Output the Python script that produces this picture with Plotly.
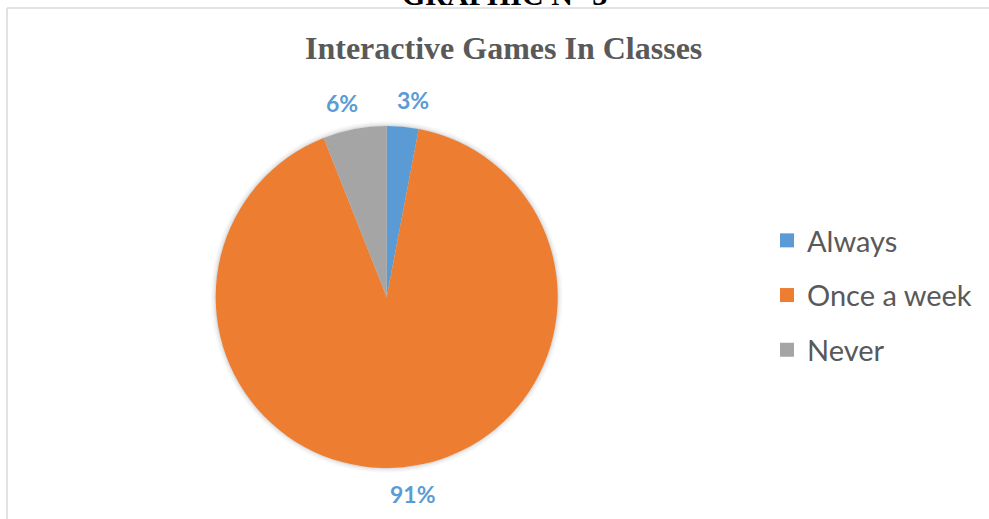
import math
import plotly.graph_objects as go

# Survey answers: how often interactive games are used in class (%)
labels = ["Always", "Once a week", "Never"]
values = [3, 91, 6]
colors = ["#5B9BD5", "#ED7D31", "#A5A5A5"]

W, H = 989, 519

# pie placement in pixels (centre and radius)
cx, cy, r = 386.7, 297.0, 171.0
label_r = 198.0


def px_domain(rad):
    return dict(
        x=[(cx - rad) / W, (cx + rad) / W],
        y=[(H - cy - rad) / H, (H - cy + rad) / H],
    )


fig = go.Figure()

# soft drop shadow under the pie: a few faint stacked discs
for k, a in [(5, 0.025), (3.5, 0.03), (2, 0.04), (1, 0.05)]:
    fig.add_trace(go.Pie(
        values=[1], labels=[""], marker=dict(colors=[f"rgba(0,0,0,{a})"], line=dict(width=0)),
        textinfo="none", hoverinfo="skip", showlegend=False, sort=False,
        domain=px_domain(r + k),
    ))

fig.add_trace(go.Pie(
    labels=labels,
    values=values,
    marker=dict(colors=colors, line=dict(width=0)),
    sort=False,
    direction="clockwise",
    rotation=0,
    textinfo="none",
    showlegend=False,
    domain=px_domain(r),
))

# percentage labels just outside the rim, at each slice's mid-angle,
# nudged sideways away from the vertical axis
total = sum(values)
annotations = []
start = 0.0
for v in values:
    mid = (start + v / 2) / total * 2 * math.pi  # clockwise from 12 o'clock
    start += v
    lx = cx + label_r * math.sin(mid)
    ly = cy - label_r * math.cos(mid)
    side = 1 if math.sin(mid) >= 0 else -1
    annotations.append(dict(
        text=f"{round(v / total * 100)}%", xref="paper", yref="paper",
        x=lx / W, y=(H - ly) / H, xanchor="center", yanchor="middle", showarrow=False,
        xshift=side * 8,
        font=dict(family="Lato", size=23, color="#5B9BD5", weight="bold"),
    ))

# legend entries, one group per category so the rows can be spaced apart
for lab, col in zip(labels, colors):
    fig.add_trace(go.Scatter(
        x=[None], y=[None], mode="markers", name=lab, legendgroup=lab,
        marker=dict(symbol="square", size=14, color=col, line=dict(width=0)),
    ))

annotations += [
    dict(text="Interactive Games In Classes", xref="paper", yref="paper",
         x=503 / W, y=(H - 48) / H, xanchor="center", yanchor="middle",
         showarrow=False,
         font=dict(family="Liberation Serif", size=32, color="#595959", weight="bold")),
    dict(text="GRAPHIC N° 3", xref="paper", yref="paper",
         x=505 / W, y=(H - 13) / H, xanchor="center", yanchor="bottom",
         showarrow=False,
         font=dict(family="Liberation Serif", size=30, color="#000000", weight="bold")),
]

fig.update_layout(
    width=W, height=H,
    margin=dict(l=0, r=0, t=0, b=0),
    paper_bgcolor="white", plot_bgcolor="white",
    xaxis=dict(visible=False), yaxis=dict(visible=False),
    showlegend=True,
    legend=dict(
        x=767 / W, y=(H - 215) / H, xanchor="left", yanchor="top",
        font=dict(family="Lato", size=29, color="#595959"),
        tracegroupgap=14, itemsizing="trace",
        bgcolor="rgba(0,0,0,0)",
    ),
    shapes=[
        dict(type="line", xref="paper", yref="paper",
             x0=7 / W, x1=1, y0=(H - 8) / H, y1=(H - 8) / H,
             line=dict(color="#D9D9D9", width=1.5)),
        dict(type="line", xref="paper", yref="paper",
             x0=7 / W, x1=7 / W, y0=0, y1=(H - 8) / H,
             line=dict(color="#D9D9D9", width=1.5)),
    ],
    annotations=annotations,
)

fig.write_html("out.html")
